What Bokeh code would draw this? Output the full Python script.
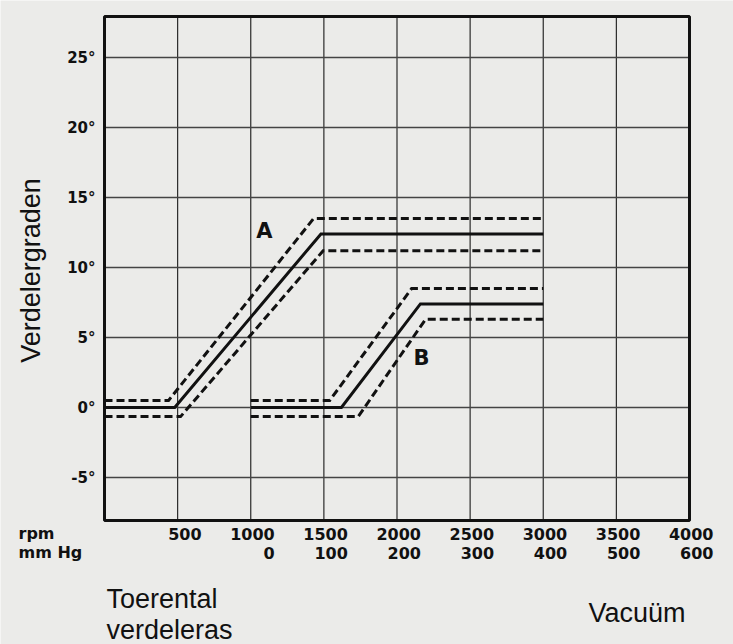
import math
from bokeh.plotting import figure
from bokeh.models import Range1d, Label, LabelSet, ColumnDataSource
from bokeh.core.properties import value
from bokeh.embed import file_html
from bokeh.resources import INLINE

# ---- data (x in rpm, y in degrees) ----
a_mid_x = [0, 480, 1480, 3000]
a_mid_y = [0, 0, 12.4, 12.4]
a_hi_x = [0, 438, 1430, 3000]
a_hi_y = [0.5, 0.5, 13.5, 13.5]
a_lo_x = [0, 520, 1495, 3000]
a_lo_y = [-0.65, -0.65, 11.2, 11.2]

b_mid_x = [1000, 1620, 2160, 3000]
b_mid_y = [0, 0, 7.4, 7.4]
b_hi_x = [1000, 1540, 2100, 3000]
b_hi_y = [0.5, 0.5, 8.5, 8.5]
b_lo_x = [1000, 1735, 2195, 3000]
b_lo_y = [-0.65, -0.65, 6.3, 6.3]

rpm_ticks = [500, 1000, 1500, 2000, 2500, 3000, 3500, 4000]
rpm_labels = ["500", "1000", "1500", "2000", "2500", "3000", "3500", "4000"]
mmhg_ticks = [1000, 1500, 2000, 2500, 3000, 3500, 4000]
mmhg_labels = ["0", "100", "200", "300", "400", "500", "600"]
deg_ticks = [-5, 0, 5, 10, 15, 20, 25]
deg_labels = ["-5°", "0°", "5°", "10°", "15°", "20°", "25°"]

# chart box limits (data units)
X_MIN, X_MAX = 0, 4000
Y_MIN, Y_MAX = -8.07, 27.93

W, H = 733, 644
BOX_L, BOX_R, BOX_T, BOX_B = 104, 689, 16, 520   # pixel position of the chart box
px_x = (X_MAX - X_MIN) / (BOX_R - BOX_L)
px_y = (Y_MAX - Y_MIN) / (BOX_B - BOX_T)

BG = "#ebebe9"
INK = "#111111"

p = figure(width=W, height=H,
           x_range=Range1d(X_MIN - BOX_L * px_x, X_MAX + (W - BOX_R) * px_x),
           y_range=Range1d(Y_MIN - (H - BOX_B) * px_y, Y_MAX + BOX_T * px_y),
           x_axis_type=None, y_axis_type=None, output_backend="svg", toolbar_location=None,
           min_border=0, min_border_left=0, min_border_right=0, min_border_top=0,
           min_border_bottom=0)
p.background_fill_color = BG
p.border_fill_color = BG
p.outline_line_color = None
p.grid.visible = False

# grid lines
vx = rpm_ticks[:-1]
p.segment(x0=vx, y0=[Y_MIN] * len(vx), x1=vx, y1=[Y_MAX] * len(vx),
          line_color="#2a2a2a", line_width=1.2)
p.segment(x0=[X_MIN] * len(deg_ticks), y0=deg_ticks, x1=[X_MAX] * len(deg_ticks), y1=deg_ticks,
          line_color="#444444", line_width=1.5)

# curves
for xs, ys, dash in [(a_hi_x, a_hi_y, "8 4"), (a_mid_x, a_mid_y, "solid"), (a_lo_x, a_lo_y, "8 4"),
                     (b_hi_x, b_hi_y, "8 4"), (b_mid_x, b_mid_y, "solid"), (b_lo_x, b_lo_y, "8 4")]:
    p.line(xs, ys, line_color=INK, line_width=3, line_dash=dash, line_join="miter")

# chart box
p.quad(left=[X_MIN], right=[X_MAX], bottom=[Y_MIN], top=[Y_MAX], fill_color=None,
       line_color=INK, line_width=3)

BOLD_SET = dict(text_font=value("DejaVu Sans"), text_font_style="bold", text_color=INK)
BOLD = dict(text_font="DejaVu Sans", text_font_style="bold", text_color=INK)
PLAIN = dict(text_font="Liberation Sans", text_color=INK)

# y tick labels
src_deg = ColumnDataSource(dict(x=[X_MIN] * len(deg_ticks), y=deg_ticks, t=deg_labels))
p.add_layout(LabelSet(x="x", y="y", text="t", source=src_deg, x_offset=-9, text_align="right",
                      text_baseline="middle", text_font_size="15px", **BOLD_SET))

# x tick label rows
src_rpm = ColumnDataSource(dict(x=rpm_ticks, y=[-9.0] * len(rpm_ticks), t=rpm_labels))
src_mm = ColumnDataSource(dict(x=mmhg_ticks, y=[-10.36] * len(mmhg_ticks), t=mmhg_labels))
for src in (src_rpm, src_mm):
    p.add_layout(LabelSet(x="x", y="y", text="t", source=src, x_offset=24, text_align="right",
                          text_baseline="middle", text_font_size="16px", **BOLD_SET))

p.add_layout(Label(x=X_MIN, x_offset=-86, y=-9.0, text="rpm", text_align="left",
                   text_baseline="middle", text_font_size="16px", **BOLD))
p.add_layout(Label(x=X_MIN, x_offset=-86, y=-10.36, text="mm Hg", text_align="left",
                   text_baseline="middle", text_font_size="16px", **BOLD))

# curve names
p.add_layout(Label(x=1094, y=12.64, text="A", text_align="center", text_baseline="middle",
                   text_font_size="21px", **BOLD))
p.add_layout(Label(x=2167, y=3.57, text="B", text_align="center", text_baseline="middle",
                   text_font_size="21px", **BOLD))

# titles
p.add_layout(Label(x=X_MIN, x_offset=-74, y=9.79, text="Verdelergraden", angle=math.pi / 2,
                   text_align="center", text_baseline="middle", text_font_size="27px", **PLAIN))
p.add_layout(Label(x=X_MIN, x_offset=2, y=-13.65, text="Toerental", text_align="left",
                   text_baseline="alphabetic", text_font_size="27px", **PLAIN))
p.add_layout(Label(x=X_MIN, x_offset=2, y=-15.86, text="verdeleras", text_align="left",
                   text_baseline="alphabetic", text_font_size="27px", **PLAIN))
p.add_layout(Label(x=3309, y=-14.65, text="Vacuüm", text_align="left",
                   text_baseline="alphabetic", text_font_size="27px", **PLAIN))

open("out.html", "w").write(file_html(p, INLINE))
